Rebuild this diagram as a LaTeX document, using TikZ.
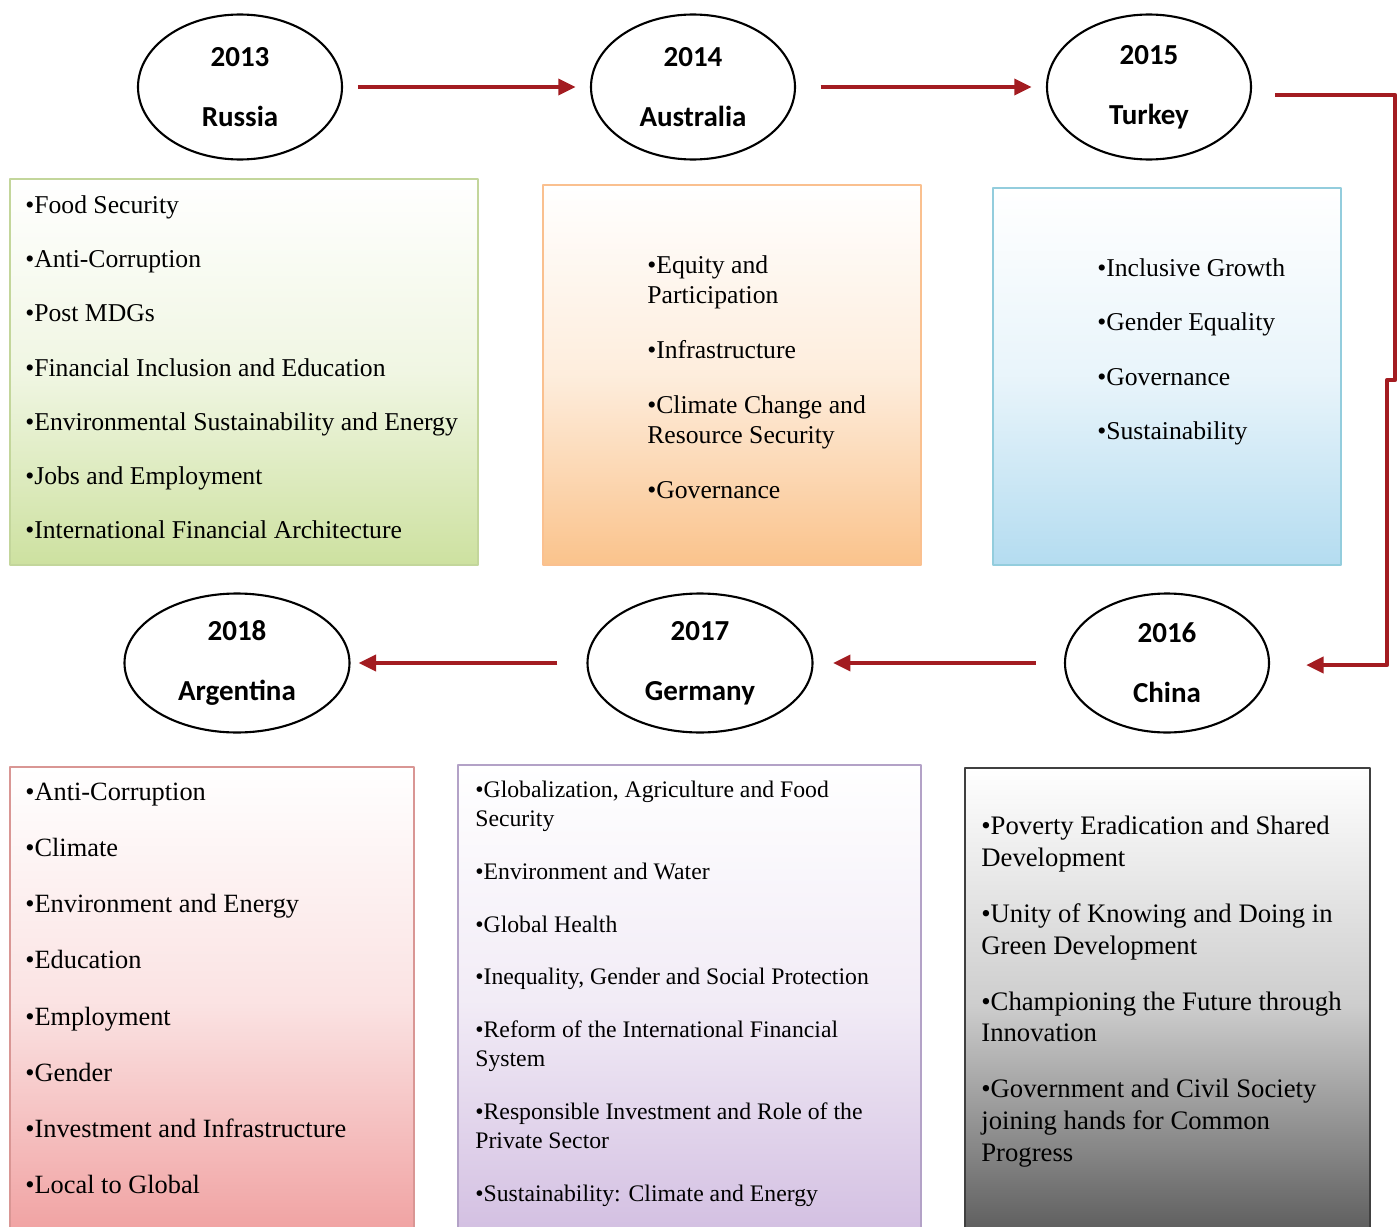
\documentclass[tikz,border=0pt]{standalone}
\usepackage{fontspec}
\setmainfont{Liberation Serif}
\newfontfamily\yearfont{Carlito}
\usetikzlibrary{shapes.geometric,arrows.meta}
\definecolor{linkred}{RGB}{163,28,33}
\definecolor{rusedge}{RGB}{195,214,155}\definecolor{rusfill}{RGB}{205,225,160}
\definecolor{ausedge}{RGB}{250,192,143}\definecolor{ausfill}{RGB}{250,195,140}
\definecolor{turedge}{RGB}{147,205,221}\definecolor{turfill}{RGB}{180,220,240}
\definecolor{argedge}{RGB}{217,150,148}\definecolor{argfill}{RGB}{240,160,160}
\definecolor{geredge}{RGB}{179,162,199}\definecolor{gerfill}{RGB}{210,190,225}
\definecolor{chnedge}{RGB}{64,64,64}\definecolor{chnfill}{RGB}{90,90,90}
\tikzset{
	yearnode/.style={ellipse,draw,line width=1.2pt,fill=white,inner sep=0pt,align=center,
		font=\yearfont\bfseries\fontsize{16.5pt}{34pt}\selectfont},
	topicbox/.style 2 args={draw=#1,line width=1.1pt,top color=white,bottom color=#2,middle color=#2!30!white},
	topics/.style={anchor=north west,inner sep=0pt,align=left,font=\fontsize{14.6pt}{17pt}\selectfont},
	link/.style={draw=linkred,line width=2.4pt,-{Triangle[length=10pt,width=9pt]}}
}
\begin{document}
\begin{tikzpicture}[x=0.2mm,y=-0.2mm,line join=round]
	\useasboundingbox (0,0) rectangle (1400,1227);
	% years
	\node[yearnode,minimum width=40.8mm,minimum height=29mm] (russia) at (240,87) {2013\\Russia};
	\node[yearnode,minimum width=40.8mm,minimum height=29mm] (australia) at (693,87) {2014\\Australia};
	\node[yearnode,minimum width=40.8mm,minimum height=29mm] (turkey) at (1149,87) {2015\\Turkey};
	\node[yearnode,minimum width=45mm,minimum height=27.8mm] (argentina) at (237,663) {2018\\Argentina};
	\node[yearnode,minimum width=45mm,minimum height=27.8mm] (germany) at (700,663) {2017\\Germany};
	\node[yearnode,minimum width=40.8mm,minimum height=27.8mm] (china) at (1167,663) {2016\\China};
	% arrows
	\draw[link,shorten <=8.5pt,shorten >=8pt] (russia) -- (australia);
	\draw[link,shorten <=14pt,shorten >=8pt] (australia) -- (turkey);
	\draw[link] ([shift={(23,8)}]turkey.east) -- ++(120,0) -- ++(0,285) -- ++(-8,0) |- ([shift={(36,2)}]china.east);
	\draw[link,shorten <=16pt,shorten >=11pt] (china) -- (germany);
	\draw[link,shorten <=16.5pt,shorten >=4.5pt] (germany) -- (argentina);
	% boxes
	\draw[topicbox={rusedge}{rusfill}] (10,179) rectangle (478,565);
	\draw[topicbox={ausedge}{ausfill}] (543,185) rectangle (921,565);
	\draw[topicbox={turedge}{turfill}] (993,188) rectangle (1341,565);
	\draw[topicbox={argedge}{argfill}] (10,767) rectangle (414,1240);
	\draw[topicbox={geredge}{gerfill}] (458,765) rectangle (921,1240);
	\draw[topicbox={chnedge}{chnfill}] (965,768) rectangle (1370,1240);
	% topics
	\node[topics] (rustopics) at (25,195) {•Food Security\\[13.9pt]•Anti-Corruption\\[13.9pt]•Post MDGs\\[13.9pt]•Financial Inclusion and Education\\[13.9pt]•Environmental Sustainability and Energy\\[13.9pt]•Jobs and Employment\\[13.9pt]•International Financial Architecture};
	\node[topics] (austopics) at (647,255) {•Equity and\\Participation\\[14.5pt]•Infrastructure\\[14.5pt]•Climate Change and\\Resource Security\\[14.5pt]•Governance};
	\node[topics] (turtopics) at (1097,258) {•Inclusive Growth\\[14pt]•Gender Equality\\[14pt]•Governance\\[14pt]•Sustainability};
	\node[topics,font=\fontsize{15pt}{17pt}\selectfont] (argtopics) at (25,783) {•Anti-Corruption\\[14.9pt]•Climate\\[14.9pt]•Environment and Energy\\[14.9pt]•Education\\[14.9pt]•Employment\\[14.9pt]•Gender\\[14.9pt]•Investment and Infrastructure\\[14.9pt]•Local to Global};
	\node[topics,font=\fontsize{13.5pt}{16.5pt}\selectfont] (gertopics) at (475,781) {•Globalization, Agriculture and Food\\Security\\[13.5pt]•Environment and Water\\[13.5pt]•Global Health\\[13.5pt]•Inequality, Gender and Social Protection\\[13.5pt]•Reform of the International Financial\\System\\[13.5pt]•Responsible Investment and Role of the\\Private Sector\\[13.5pt]•Sustainability: Climate and Energy};
	\node[topics,font=\fontsize{15.2pt}{18pt}\selectfont] (chntopics) at (981,816) {•Poverty Eradication and Shared\\Development\\[13.9pt]•Unity of Knowing and Doing in\\Green Development\\[13.9pt]•Championing the Future through\\Innovation\\[13.9pt]•Government and Civil Society\\joining hands for Common\\Progress};
\end{tikzpicture}
\end{document}
